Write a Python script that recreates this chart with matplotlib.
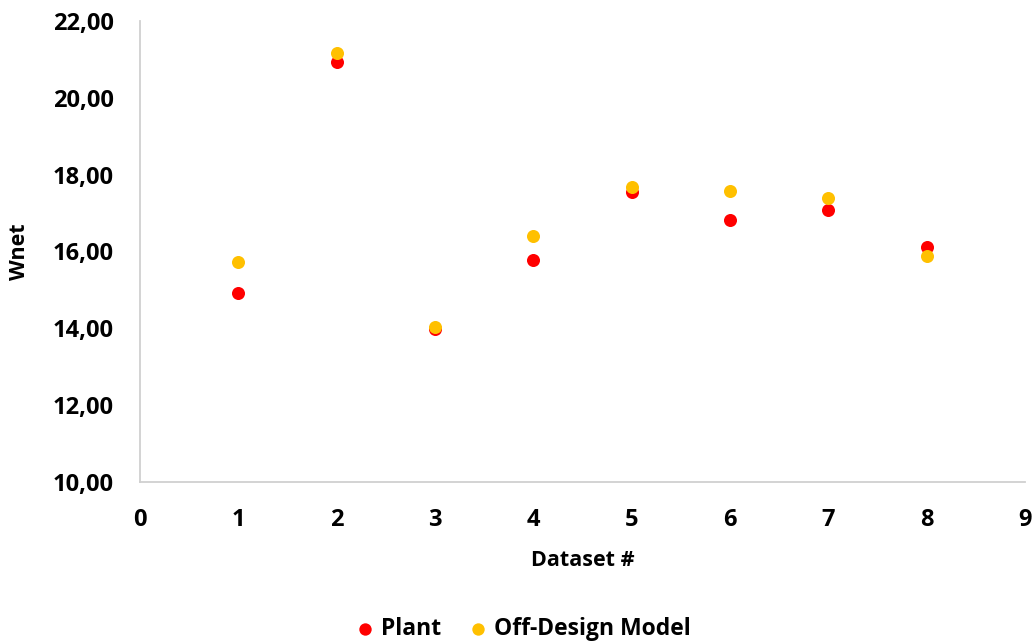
import matplotlib
matplotlib.use("Agg")
import matplotlib.pyplot as plt

# Net work per dataset: plant measurements vs. off-design model predictions
datasets = [1, 2, 3, 4, 5, 6, 7, 8]
plant = [14.91, 20.92, 13.97, 15.77, 17.54, 16.82, 17.07, 16.12]
off_design = [15.73, 21.16, 14.02, 16.41, 17.68, 17.58, 17.40, 15.88]

x_ticks = list(range(0, 10))
y_ticks = [10, 12, 14, 16, 18, 20, 22]

plt.rcParams["font.family"] = ["Open Sans", "DejaVu Sans"]
plt.rcParams["font.weight"] = "bold"

fig = plt.figure(figsize=(10.36, 6.41), dpi=100)
ax = fig.add_axes([0.1351, 0.2485, 0.8543, 0.7187])

ms = 88
ax.scatter(datasets, plant, s=ms, color="#FF0000", linewidths=0, label="Plant", zorder=3)
ax.scatter(datasets, off_design, s=ms, color="#FFC000", linewidths=0, label="Off-Design Model", zorder=4)

ax.set_xlim(0, 9)
ax.set_ylim(10, 22)
ax.set_xticks(x_ticks)
ax.set_yticks(y_ticks)
ax.set_yticklabels([f"{v:.2f}".replace(".", ",") for v in y_ticks])

for side in ("top", "right"):
    ax.spines[side].set_visible(False)
for side in ("left", "bottom"):
    ax.spines[side].set_color("#D0D0D0")
    ax.spines[side].set_linewidth(1.3)

ax.tick_params(axis="both", length=0, labelsize=17, colors="black")
ax.tick_params(axis="y", pad=19)
ax.tick_params(axis="x", pad=19)
for lbl in ax.get_xticklabels() + ax.get_yticklabels():
    lbl.set_fontweight("bold")

ax.set_xlabel("Dataset #", fontsize=15.5, fontweight="bold", labelpad=13)
ax.set_ylabel("Wnet", fontsize=15.5, fontweight="bold")
ax.yaxis.set_label_coords(-0.1243, 0.5)

handles, labels = ax.get_legend_handles_labels()
fig.legend(handles, labels, loc="center", bbox_to_anchor=(0.505, 1 - 629 / 641),
           ncol=2, frameon=False, handlelength=0.8, handletextpad=0.3,
           columnspacing=1.2, markerscale=0.95,
           prop={"weight": "bold", "size": 16.5})

fig.savefig("out.png", dpi=100, facecolor="white")
